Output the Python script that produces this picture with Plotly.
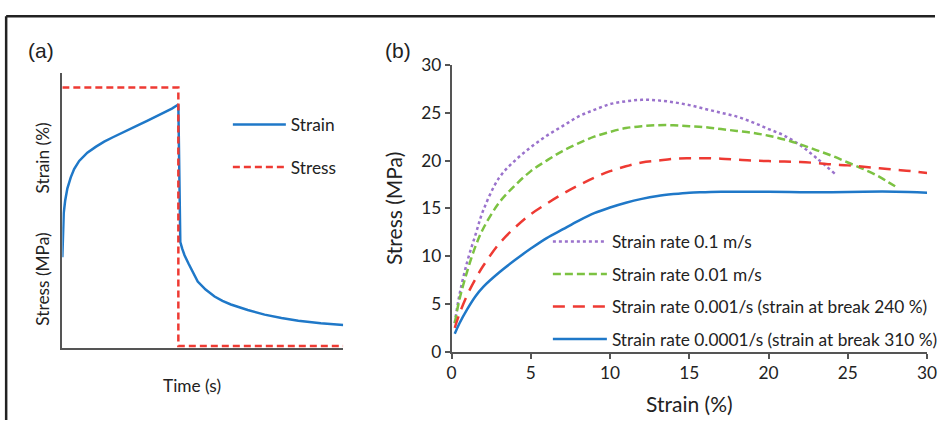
import plotly.graph_objects as go

# ---------------- Panel (a): schematic creep / recovery ----------------
a_time_strain = [0, 0.02, 0.05, 0.1, 0.18, 0.3, 0.42, 0.6, 0.89, 1.2, 1.49, 1.8, 2.1,
                 2.4, 2.7, 3.0, 3.3, 3.6, 3.9, 4.13,
                 4.15, 4.17, 4.20, 4.27, 4.35, 4.5, 4.65, 4.82, 5.1, 5.42, 5.7, 6.0,
                 6.6, 7.2, 7.8, 8.4, 9.2, 10]
a_strain = [3.3, 4.2, 4.9, 5.35, 5.8, 6.2, 6.5, 6.8, 7.1, 7.32, 7.5, 7.66, 7.8,
            7.95, 8.1, 8.25, 8.4, 8.55, 8.7, 8.85,
            7.0, 5.2, 3.85, 3.6, 3.37, 3.05, 2.75, 2.41, 2.12, 1.87, 1.71, 1.58,
            1.38, 1.21, 1.09, 0.99, 0.9, 0.83]
a_time_stress = [0, 4.13, 4.13, 10]
a_stress = [9.47, 9.47, 0.07, 0.07]

# ---------------- Panel (b): stress-strain curves ----------------
b_x_01 = [0.2, 0.5, 1, 1.5, 2, 3, 4, 5, 6, 7, 8, 9, 10, 11, 12, 13, 14, 15, 16,
          17, 18, 19, 20, 21, 22, 23, 24.2]
b_y_01 = [3.0, 6.0, 9.5, 12.2, 14.8, 18.2, 20.0, 21.4, 22.6, 23.6, 24.6, 25.3, 25.9,
          26.2, 26.35, 26.3, 26.1, 25.8, 25.4, 25.0, 24.6, 24.0, 23.3, 22.6, 21.6,
          20.3, 18.6]

b_x_001 = [0.2, 0.5, 1, 1.5, 2, 3, 4, 5, 6, 7, 8, 9, 10, 11, 12, 13, 14, 15, 16,
           17, 18, 19, 20, 21, 22, 23, 24, 25, 26, 27, 27.6, 28.2]
b_y_001 = [3.0, 5.5, 8.5, 11.0, 12.9, 15.6, 17.4, 18.9, 20.0, 21.0, 21.8, 22.5, 23.0,
           23.4, 23.6, 23.7, 23.7, 23.6, 23.5, 23.3, 23.1, 22.9, 22.6, 22.2, 21.7,
           21.1, 20.5, 19.8, 19.1, 18.3, 17.7, 17.1]

b_x_0001 = [0.2, 0.5, 1, 1.5, 2, 3, 4, 5, 6, 7, 8, 9, 10, 11, 12, 13, 14, 15, 16,
            17, 18, 19, 20, 21, 22, 23, 24, 25, 26, 27, 28, 29, 30]
b_y_0001 = [2.5, 4.0, 6.0, 7.6, 9.0, 11.3, 13.0, 14.4, 15.5, 16.5, 17.4, 18.2, 18.9,
            19.4, 19.8, 20.0, 20.2, 20.25, 20.25, 20.2, 20.1, 20.0, 19.95, 19.9,
            19.85, 19.75, 19.6, 19.5, 19.35, 19.2, 19.05, 18.9, 18.7]

b_x_00001 = [0.2, 0.5, 1, 1.5, 2, 3, 4, 5, 6, 7, 8, 9, 10, 11, 12, 13, 14, 15, 16,
             17, 18, 19, 20, 22, 24, 26, 28, 30]
b_y_00001 = [1.9, 3.0, 4.5, 5.8, 6.8, 8.3, 9.6, 10.8, 11.9, 12.8, 13.7, 14.5, 15.1,
             15.6, 16.0, 16.3, 16.5, 16.65, 16.7, 16.75, 16.75, 16.75, 16.75, 16.7,
             16.7, 16.75, 16.75, 16.65]

b_names = ["Strain rate 0.1 m/s",
           "Strain rate 0.01 m/s",
           "Strain rate 0.001/s (strain at break 240 %)",
           "Strain rate 0.0001/s (strain at break 310 %)"]
b_xticks = [0, 5, 10, 15, 20, 25, 30]
b_yticks = [0, 5, 10, 15, 20, 25, 30]

BLUE = "#1f78c8"
RED = "#ee3a33"
GREEN = "#7cc242"
PURPLE = "#9a72cc"
FONT = "Lato"
TXT = "#222222"
FS = 17.3

# Figure size; the page adds an 8px body margin and the photo of the page is
# scaled to 945x430, so reference pixel positions are converted back to
# figure pixels below.
W, H = 945, 430
OFF = 8
SX = 0.981
SY = 0.958

def fx(p):
    return p / SX - OFF

def fy(p):
    return p / SY - OFF

def px_x(p):
    return fx(p) / W

def px_y(p):
    return (H - fy(p)) / H

fig = go.Figure()

# Panel (a)
fig.add_trace(go.Scatter(x=a_time_strain, y=a_strain, mode="lines", name="Strain",
                         line=dict(color=BLUE, width=2.5), xaxis="x", yaxis="y",
                         legend="legend", legendgroup="a1"))
fig.add_trace(go.Scatter(x=a_time_stress, y=a_stress, mode="lines", name="Stress",
                         line=dict(color=RED, width=2.5, dash="7px,4px"),
                         xaxis="x", yaxis="y", legend="legend", legendgroup="a2"))

# Panel (b)
fig.add_trace(go.Scatter(x=b_x_01, y=b_y_01, mode="lines", name=b_names[0],
                         line=dict(color=PURPLE, width=2.5, dash="dot", shape="spline"),
                         xaxis="x2", yaxis="y2", legend="legend2", legendgroup="b1"))
fig.add_trace(go.Scatter(x=b_x_001, y=b_y_001, mode="lines", name=b_names[1],
                         line=dict(color=GREEN, width=2.5, dash="8px,4px", shape="spline"),
                         xaxis="x2", yaxis="y2", legend="legend2", legendgroup="b2"))
fig.add_trace(go.Scatter(x=b_x_0001, y=b_y_0001, mode="lines", name=b_names[2],
                         line=dict(color=RED, width=2.5, dash="12px,8px", shape="spline"),
                         xaxis="x2", yaxis="y2", legend="legend2", legendgroup="b3"))
fig.add_trace(go.Scatter(x=b_x_00001, y=b_y_00001, mode="lines", name=b_names[3],
                         line=dict(color=BLUE, width=2.5, shape="spline"),
                         xaxis="x2", yaxis="y2", legend="legend2", legendgroup="b4"))

axis_common = dict(showgrid=False, zeroline=False, showline=True,
                   linecolor="#555555", linewidth=1.5)

fig.update_layout(
    width=W, height=H,
    margin=dict(l=0, r=0, t=0, b=0),
    paper_bgcolor="white", plot_bgcolor="white",
    font=dict(family=FONT, size=FS, color=TXT),
    showlegend=True,
    xaxis=dict(domain=[px_x(65), px_x(345)], range=[0, 10], showticklabels=False,
               ticks="", anchor="y", **axis_common),
    yaxis=dict(domain=[px_y(347), px_y(70)], range=[0, 10], showticklabels=False,
               ticks="", anchor="x", **axis_common),
    xaxis2=dict(domain=[px_x(453), px_x(927)], range=[0, 30], tickvals=b_xticks,
                ticks="outside", ticklen=5, tickcolor="#555555", tickwidth=1.5,
                anchor="y2", title=dict(text="Strain (%)", standoff=15),
                tickfont=dict(size=FS), **axis_common),
    yaxis2=dict(domain=[px_y(351), px_y(62)], range=[0, 30], tickvals=b_yticks,
                ticks="outside", ticklen=5, tickcolor="#555555", tickwidth=1.5,
                anchor="x2", title=dict(text="Stress (MPa)", standoff=13),
                tickfont=dict(size=FS), **axis_common),
    legend=dict(x=px_x(230), y=px_y(104), xanchor="left", yanchor="top",
                bgcolor="rgba(0,0,0,0)", tracegroupgap=17, itemwidth=53,
                font=dict(family=FONT, size=FS, color=TXT)),
    legend2=dict(x=px_x(549), y=px_y(222), xanchor="left", yanchor="top",
                 bgcolor="rgba(0,0,0,0)", tracegroupgap=7, itemwidth=54,
                 font=dict(family=FONT, size=FS, color=TXT)),
)

# frame lines (top and left edges of the figure border)
fig.add_shape(type="line", xref="paper", yref="paper", x0=px_x(9), x1=1,
              y0=px_y(13), y1=px_y(13), line=dict(color=TXT, width=2.5))
fig.add_shape(type="line", xref="paper", yref="paper", x0=px_x(9), x1=px_x(9),
              y0=px_y(13), y1=0, line=dict(color=TXT, width=2.5))

# panel labels and axis labels for (a)
fig.add_annotation(text="(a)", x=px_x(29), y=px_y(47), xref="paper", yref="paper",
                   xanchor="left", yanchor="middle", showarrow=False,
                   font=dict(family="Arial", size=21, color=TXT))
fig.add_annotation(text="(b)", x=px_x(385), y=px_y(47), xref="paper", yref="paper",
                   xanchor="left", yanchor="middle", showarrow=False,
                   font=dict(family="Arial", size=21, color=TXT))
fig.add_annotation(text="Strain (%)", x=px_x(45), y=px_y(156), xref="paper",
                   yref="paper", textangle=-90, showarrow=False,
                   xanchor="center", yanchor="middle",
                   font=dict(family=FONT, size=FS, color=TXT))
fig.add_annotation(text="Stress (MPa)", x=px_x(45), y=px_y(278), xref="paper",
                   yref="paper", textangle=-90, showarrow=False,
                   xanchor="center", yanchor="middle",
                   font=dict(family=FONT, size=FS, color=TXT))
fig.add_annotation(text="Time (s)", x=px_x(194), y=px_y(385), xref="paper",
                   yref="paper", showarrow=False, xanchor="center", yanchor="middle",
                   font=dict(family=FONT, size=FS, color=TXT))

fig.write_html("out.html")
